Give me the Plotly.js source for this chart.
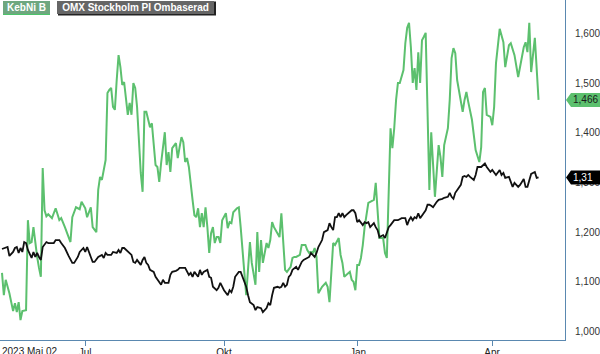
<!DOCTYPE html>
<html>
<head>
<meta charset="utf-8">
<script src="https://cdn.plot.ly/plotly-3.0.1.min.js"></script>
<style>html,body{margin:0;padding:0;background:#fff;}#chart{width:600px;height:354px;}</style>
</head>
<body>
<div id="chart"></div>
<script>
// x = trading-day index from the chart start (2023 Mai 02)
const seriesNames = ['KebNi B', 'OMX Stockholm PI Ombaserad'];
const tickPos = [44.9, 120, 192.4, 264.9];
const tickText = ['Jul', 'Okt', 'Jan', 'Apr'];
const startLabel = '2023 Mai 02';
const yTicks = [1000, 1100, 1200, 1300, 1400, 1500, 1600];
const lastLabels = ['1,466', '1,31'];

const kebni = [
[0,1118],[1,1073],[2,1104],[4,1077],[6,1041],[7,1057],[8,1039],[9,1059],[10,1023],[11,1041],
[13,1043],[14,1224],[15,1178],[16,1180],[17,1210],[18,1178],[19,1150],[20,1128],[21,1110],[22,1329],
[23,1244],[24,1232],[25,1236],[27,1228],[29,1248],[31,1224],[32,1228],[34,1210],[36,1190],[37,1180],
[38,1230],[40,1250],[42,1246],[43,1261],[45,1248],[46,1230],[48,1250],[49,1210],[51,1200],[52,1285],
[53,1311],[54,1305],[56,1345],[57,1480],[58,1486],[59,1490],[60,1452],[61,1446],[62,1506],[63,1556],
[64,1532],[65,1496],[66,1502],[68,1436],[69,1460],[70,1436],[71,1500],[72,1490],[73,1452],[74,1385],
[75,1319],[76,1281],[77,1442],[78,1442],[80,1411],[81,1419],[82,1371],[83,1335],[84,1331],[85,1301],
[86,1339],[88,1401],[89,1335],[90,1361],[91,1321],[92,1369],[94,1379],[95,1349],[96,1371],[97,1391],
[98,1381],[99,1341],[100,1349],[101,1331],[103,1265],[104,1234],[105,1230],[106,1248],[107,1210],[108,1238],
[109,1210],[110,1250],[111,1210],[112,1158],[113,1198],[114,1210],[115,1178],[116,1190],[117,1190],[118,1178],
[119,1224],[120,1230],[121,1238],[122,1208],[123,1220],[124,1218],[125,1240],[127,1248],[128,1250],[129,1210],
[130,1170],[131,1118],[132,1073],[133,1124],[134,1180],[135,1138],[136,1118],[137,1094],[138,1200],[139,1120],
[140,1184],[141,1138],[143,1178],[144,1168],[145,1184],[146,1220],[147,1210],[149,1198],[150,1190],[151,1238],
[152,1170],[153,1124],[154,1120],[156,1130],[157,1148],[158,1150],[159,1150],[161,1154],[162,1174],[164,1174],
[165,1164],[166,1158],[167,1160],[168,1158],[169,1168],[170,1150],[171,1077],[173,1090],[175,1098],[176,1090],
[177,1059],[178,1124],[179,1178],[180,1174],[182,1188],[183,1154],[184,1138],[185,1110],[186,1114],[188,1120],
[189,1104],[190,1100],[191,1083],[192,1134],[193,1134],[194,1148],[195,1174],[196,1210],[198,1259],[199,1261],
[201,1265],[202,1299],[203,1230],[204,1188],[206,1188],[207,1158],[208,1148],[209,1295],[210,1409],[211,1369],
[212,1409],[213,1466],[214,1500],[215,1500],[217,1526],[218,1580],[219,1611],[220,1621],[221,1572],[222,1500],
[223,1530],[224,1486],[225,1562],[226,1500],[227,1586],[228,1593],[229,1601],[231,1285],[232,1401],[234,1271],
[235,1325],[236,1375],[237,1351],[238,1311],[239,1375],[241,1409],[242,1466],[243,1550],[244,1570],[245,1560],
[246,1506],[247,1486],[249,1442],[250,1466],[251,1482],[252,1462],[254,1426],[256,1365],[258,1341],[259,1371],
[260,1482],[261,1490],[262,1436],[264,1432],[265,1415],[266,1452],[267,1540],[269,1609],[271,1582],[272,1532],
[274,1576],[275,1580],[277,1556],[279,1512],[282,1572],[283,1582],[284,1562],[285,1621],[286,1522],[288,1591],
[290,1466]
];

const omx = [
[0,1166],[2,1168],[3,1170],[4,1152],[6,1160],[7,1168],[8,1170],[9,1158],[10,1168],[11,1160],
[12,1180],[13,1178],[14,1164],[16,1148],[17,1160],[18,1150],[19,1158],[20,1150],[21,1144],[22,1170],
[24,1180],[25,1178],[28,1178],[29,1184],[30,1184],[31,1184],[32,1178],[34,1168],[36,1152],[38,1138],
[39,1138],[41,1150],[42,1160],[43,1164],[44,1168],[45,1160],[46,1170],[48,1150],[49,1140],[50,1140],
[51,1144],[52,1150],[54,1154],[55,1148],[56,1158],[57,1154],[59,1154],[60,1160],[62,1158],[63,1164],
[64,1158],[65,1168],[66,1168],[68,1160],[70,1154],[71,1140],[72,1138],[73,1144],[75,1134],[76,1144],
[77,1150],[78,1138],[79,1134],[80,1124],[82,1120],[83,1110],[84,1104],[85,1100],[86,1094],[87,1104],
[88,1098],[89,1098],[90,1098],[91,1114],[92,1120],[94,1122],[95,1124],[96,1128],[98,1128],[99,1128],
[101,1114],[102,1118],[103,1110],[104,1120],[106,1110],[107,1124],[108,1114],[109,1120],[111,1124],[112,1110],
[113,1108],[114,1090],[116,1083],[117,1088],[118,1098],[119,1090],[120,1083],[122,1073],[123,1083],[124,1079],
[125,1090],[126,1110],[128,1120],[129,1120],[130,1110],[131,1100],[132,1090],[133,1073],[134,1059],[136,1053],
[137,1043],[138,1049],[140,1047],[141,1039],[143,1047],[144,1057],[145,1053],[146,1073],[147,1088],[149,1090],
[150,1088],[151,1090],[152,1098],[153,1090],[154,1094],[155,1110],[156,1114],[157,1124],[159,1130],[160,1124],
[161,1134],[162,1140],[163,1144],[165,1148],[166,1150],[167,1158],[168,1154],[169,1150],[170,1158],[171,1170],
[173,1184],[174,1200],[176,1204],[177,1218],[178,1210],[179,1204],[180,1230],[181,1230],[182,1238],[183,1230],
[184,1238],[185,1230],[186,1234],[188,1240],[189,1244],[190,1244],[191,1238],[192,1220],[193,1224],[195,1214],
[196,1220],[197,1218],[198,1220],[199,1210],[201,1218],[202,1210],[203,1204],[204,1190],[206,1194],[207,1188],
[208,1198],[209,1210],[210,1214],[211,1220],[212,1224],[214,1224],[216,1228],[218,1228],[219,1214],[220,1224],
[221,1230],[222,1224],[223,1230],[224,1228],[225,1238],[226,1228],[227,1234],[228,1240],[229,1244],[230,1255],
[231,1255],[232,1253],[233,1250],[235,1261],[236,1265],[238,1267],[239,1269],[241,1271],[242,1279],[243,1271],
[244,1267],[245,1279],[247,1291],[248,1295],[249,1311],[250,1313],[251,1311],[252,1315],[253,1311],[255,1305],
[256,1315],[257,1331],[259,1331],[260,1335],[261,1338],[262,1331],[264,1321],[265,1325],[266,1321],[267,1315],
[269,1325],[270,1315],[271,1319],[272,1309],[274,1311],[275,1301],[276,1291],[277,1299],[279,1291],[280,1295],
[282,1307],[283,1291],[284,1291],[286,1317],[288,1321],[289,1309],[290,1310]
];

const FONT = "Arial, 'Liberation Sans', Helvetica, sans-serif";
const AXIS = '#5a88b0';
const GREEN = '#5cc06e';
const BLACK = '#111111';
const PW = 565, PH = 340; // plot area size in px

const traces = [
  {x: kebni.map(p => p[0]), y: kebni.map(p => p[1]), type: 'scatter', mode: 'lines',
   name: seriesNames[0], line: {color: GREEN, width: 2}, hoverinfo: 'skip'},
  {x: omx.map(p => p[0]), y: omx.map(p => p[1]), type: 'scatter', mode: 'lines',
   name: seriesNames[1], line: {color: BLACK, width: 1.8}, hoverinfo: 'skip'}
];

const lastK = kebni[kebni.length - 1][1];
const lastO = omx[omx.length - 1][1];
const tagPath = 'M 1 0 L 6 -7 L 36 -7 L 36 7 L 6 7 Z';
const px = v => v / PW, py = v => 1 - v / PH;

const layout = {
  width: 600, height: 354,
  margin: {l: 0, r: 35, t: 0, b: 14, pad: 0},
  paper_bgcolor: '#ffffff', plot_bgcolor: '#ffffff',
  showlegend: false,
  font: {family: FONT, size: 10, color: '#333'},
  xaxis: {
    range: [-1.08, 304.3], tickvals: tickPos, ticktext: tickText,
    ticks: 'outside', ticklen: 5, tickcolor: AXIS, tickwidth: 1,
    showline: true, linecolor: AXIS, linewidth: 1, ticklabelstandoff: -2,
    showgrid: false, zeroline: false, fixedrange: true,
    tickfont: {family: FONT, size: 10, color: '#222'}
  },
  yaxis: {
    side: 'right', range: [982.9, 1667], tickvals: yTicks, tickformat: ',',
    ticks: '', showline: true, linecolor: AXIS, linewidth: 1, mirror: false,
    showgrid: false, zeroline: false, fixedrange: true, ticklabelstandoff: 7,
    tickfont: {family: FONT, size: 10, color: '#333'}
  },
  shapes: [
    {type: 'rect', xref: 'paper', yref: 'paper', x0: px(3), x1: px(50), y0: py(15), y1: py(1),
     fillcolor: '#4cc46a', line: {width: 0}, layer: 'above'},
    {type: 'rect', xref: 'paper', yref: 'paper', x0: px(58), x1: px(216), y0: py(15.5), y1: py(1.5),
     fillcolor: '#222', line: {width: 0}, layer: 'above'},
    {type: 'path', xref: 'paper', yref: 'y', xsizemode: 'pixel', ysizemode: 'pixel',
     xanchor: 1, yanchor: lastK, path: tagPath, fillcolor: GREEN, line: {width: 0}, layer: 'above'},
    {type: 'path', xref: 'paper', yref: 'y', xsizemode: 'pixel', ysizemode: 'pixel',
     xanchor: 1, yanchor: lastO, path: tagPath, fillcolor: '#000', line: {width: 0}, layer: 'above'}
  ],
  annotations: [
    {xref: 'paper', yref: 'paper', x: px(3), y: py(1), xanchor: 'left', yanchor: 'top',
     text: '<b>' + seriesNames[0] + '</b>', showarrow: false, bgcolor: '#6ea77f',
     width: 47, height: 13, borderpad: 0, borderwidth: 0, align: 'center',
     font: {family: FONT, size: 10, color: '#ffffff'}},
    {xref: 'paper', yref: 'paper', x: px(57), y: py(1), xanchor: 'left', yanchor: 'top',
     text: '<b>' + seriesNames[1] + '</b>', showarrow: false, bgcolor: '#666666',
     width: 157, height: 13, borderpad: 0, borderwidth: 0, align: 'center',
     font: {family: FONT, size: 10, color: '#ffffff'}},
    {xref: 'paper', yref: 'y', x: 1, y: lastK, xanchor: 'left', yanchor: 'middle', xshift: 6,
     text: lastLabels[0], showarrow: false, font: {family: FONT, size: 10, color: '#1a1a1a'}},
    {xref: 'paper', yref: 'y', x: 1, y: lastO, xanchor: 'left', yanchor: 'middle', xshift: 6,
     text: lastLabels[1], showarrow: false, font: {family: FONT, size: 10, color: '#ffffff'}},
    {xref: 'paper', yref: 'paper', x: 0, y: 0, xanchor: 'left', yanchor: 'top', yshift: -4,
     text: startLabel, showarrow: false, font: {family: FONT, size: 10, color: '#222'}}
  ]
};

Plotly.newPlot('chart', traces, layout, {displayModeBar: false, staticPlot: true});
</script>
</body>
</html>
